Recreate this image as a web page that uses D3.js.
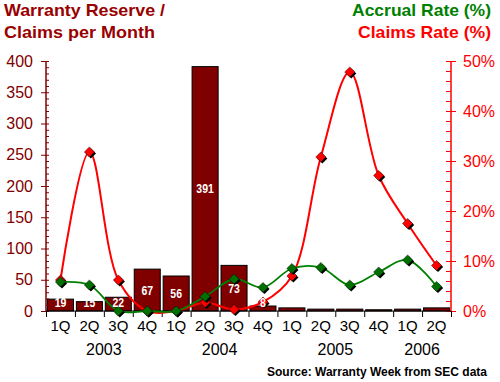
<!DOCTYPE html>
<html><head><meta charset="utf-8">
<script src="https://cdn.jsdelivr.net/npm/d3@7"></script>
<style>body{margin:0;background:#fff}svg{display:block;font-family:"Liberation Sans",Arial,sans-serif}</style>
</head><body><svg id="c" width="500" height="382"></svg>
<script>
const quarters = ["1Q","2Q","3Q","4Q","1Q","2Q","3Q","4Q","1Q","2Q","3Q","4Q","1Q","2Q"];
const years = ["2003","2003","2003","2003","2004","2004","2004","2004","2005","2005","2005","2005","2006","2006"];
const reserve = [19,15,22,67,56,391,73,8,5,3,3,2,3,5];
const claimsRate = [6.2,31.8,6.2,0,0,1.7,0.3,1.8,7.0,30.8,47.8,27.1,17.5,9.1];
const accrualRate = [5.8,5.2,0,0,0,2.9,6.4,4.7,8.5,8.7,5.2,7.8,10.2,4.9];
const leftTicks = [0,50,100,150,200,250,300,350,400];
const rightTicks = [0,10,20,30,40,50];

const svg = d3.select("#c");
svg.append("rect").attr("width",500).attr("height",382).attr("fill","#fff");
const X0 = 46, X1 = 451, Y0 = 311, Y1 = 61;
const ids = quarters.map((q,i)=>q+years[i]);
const x = d3.scaleBand().domain(ids).range([X0,X1]).paddingInner(0.1).paddingOuter(0.05);
const xb = d3.scaleLinear().domain([0,ids.length]).range([X0,X1]);
const yL = d3.scaleLinear().domain([0,400]).range([Y0,Y1]);
const yR = d3.scaleLinear().domain([0,50]).range([Y0,Y1]);
const maroon = "#800000", red = "#ff0000", green = "#008000";

// bars
svg.append("g").selectAll("rect").data(reserve).join("rect")
  .attr("x",(d,i)=>x(ids[i])).attr("width",x.bandwidth())
  .attr("y",d=>yL(d)).attr("height",d=>Y0-yL(d))
  .attr("fill",maroon).attr("stroke","#000").attr("stroke-width",1);

// left axis
const gl = svg.append("g").attr("transform",`translate(${X0},0)`);
gl.call(d3.axisLeft(yL).tickValues(leftTicks).tickSize(5).tickPadding(8));
gl.append("g").call(d3.axisRight(yL).tickValues(d3.range(0,401,10)).tickSize(3).tickFormat(""));
gl.selectAll("path,line").attr("stroke",maroon);
gl.selectAll("path.domain").attr("d",`M0,${Y0}V${Y1}`);
gl.selectAll("text").attr("fill",maroon).style("font-size","16px").style("font-family","Liberation Sans, Arial, sans-serif");

// right axis
const gr = svg.append("g").attr("transform",`translate(${X1},0)`);
gr.call(d3.axisRight(yR).tickValues(rightTicks).tickSize(5).tickPadding(7).tickFormat(d=>d+"%"));
gr.append("g").call(d3.axisLeft(yR).tickValues(d3.range(0,51,2)).tickSize(5).tickFormat(""));
gr.selectAll("path,line").attr("stroke",red);
gr.selectAll("path.domain").attr("d",`M0,${Y0}V${Y1}`);
gr.selectAll("text").attr("fill",red).style("font-size","16px").style("font-family","Liberation Sans, Arial, sans-serif");

// bottom axis
const gb = svg.append("g").attr("transform",`translate(0,${Y0})`);
gb.call(d3.axisBottom(xb).tickValues(d3.range(0,ids.length+1)).tickSize(6).tickFormat(""));
gb.selectAll("path,line").attr("stroke","#000");
gb.select("path.domain").attr("d",`M${X0},0H${X1}`);

svg.append("g").selectAll("text").data(quarters).join("text")
  .attr("x",(d,i)=>x(ids[i])+x.bandwidth()/2).attr("y",331)
  .attr("text-anchor","middle").style("font-size","15px").text(d=>d);
const yearGroups = d3.groups(ids.map((id,i)=>({i,y:years[i]})), d=>d.y);
svg.append("g").selectAll("text").data(yearGroups).join("text")
  .attr("x",d=>xb((d3.min(d[1],e=>e.i)+d3.max(d[1],e=>e.i)+1)/2)).attr("y",355)
  .attr("text-anchor","middle").style("font-size","16px").text(d=>d[0]);

// lines
const cx = (d,i)=>x(ids[i])+x.bandwidth()/2;
function series(vals,color,lineColor,w){
  const line = d3.line().x((d,i)=>cx(d,i)).y(d=>yR(d)).curve(d3.curveCatmullRom.alpha(0.5));
  svg.append("path").datum(vals).attr("d",line).attr("fill","none").attr("stroke",lineColor).attr("stroke-width",w);
  const sym = d3.symbol(d3.symbolSquare,52)();
  const g = svg.append("g");
  g.selectAll("path.s").data(vals).join("path").attr("class","s").attr("d",sym)
    .attr("transform",(d,i)=>`translate(${cx(d,i)+1.5},${yR(d)+1.5}) rotate(45)`).attr("fill","#000");
  g.selectAll("path.m").data(vals).join("path").attr("class","m").attr("d",sym)
    .attr("transform",(d,i)=>`translate(${cx(d,i)},${yR(d)}) rotate(45)`).attr("fill",color)
    .attr("stroke","#000").attr("stroke-width",0.4);
}
series(claimsRate,red,red,2);
series(accrualRate,"#007000",green,1.8);

// bar labels (centred in bar, but never lower than a minimum position)
svg.append("g").selectAll("text").data(reserve.map((v,i)=>({v,i})).filter(d=>d.v>=8)).join("text")
  .attr("transform",d=>`translate(${x(ids[d.i])+x.bandwidth()/2},${Math.min((Y0+yL(d.v))/2, Y0-8.5)}) scale(0.84,1)`)
  .attr("text-anchor","middle").attr("dy","0.36em").attr("fill","#fff")
  .style("font-size","12.5px").style("font-weight","bold").text(d=>d.v);

// titles
function t(txt,xp,yp,anchor,color,size,len){
  svg.append("text").attr("x",xp).attr("y",yp).attr("text-anchor",anchor).attr("fill",color)
    .style("font-size",size+"px").style("font-weight","bold")
    .attr("textLength",len).attr("lengthAdjust","spacingAndGlyphs").text(txt);
}
t("Warranty Reserve /",4,16,"start","#990000",17,161);
t("Claims per Month",4,38,"start","#990000",17,151);
t("Accrual Rate (%)",491,16,"end",green,17,139);
t("Claims Rate (%)",491,38,"end",red,17,133);
t("Source: Warranty Week from SEC data",487,376,"end","#000",12,220);
</script></body></html>
